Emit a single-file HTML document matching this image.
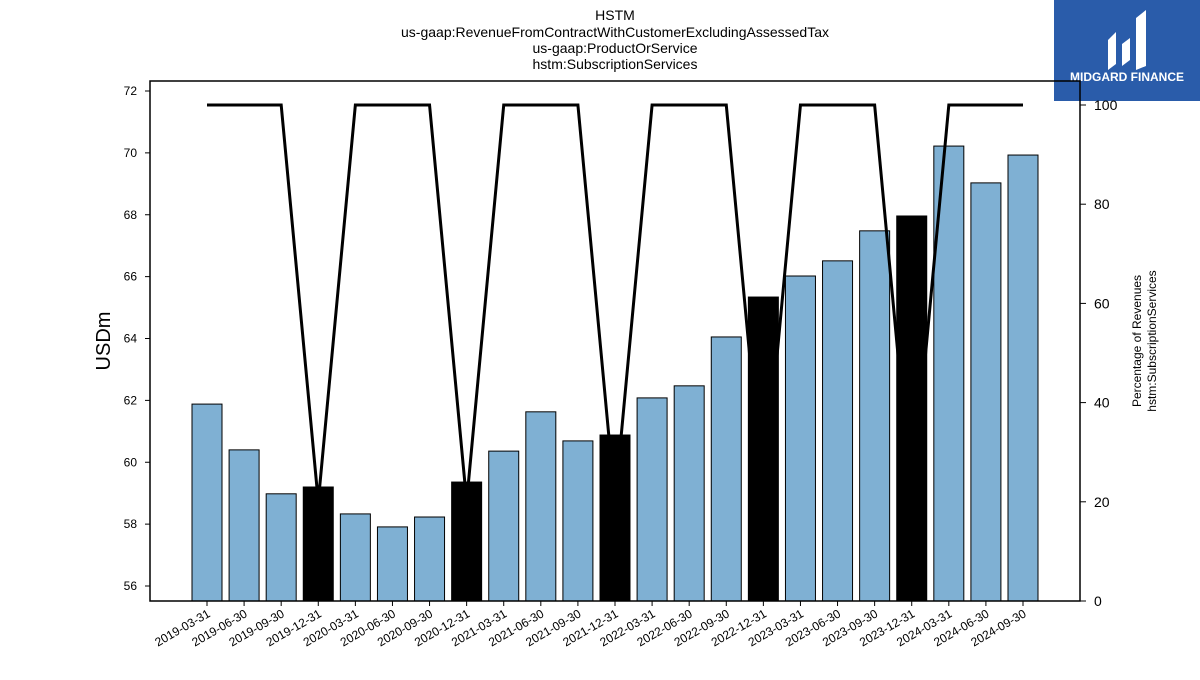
<!DOCTYPE html>
<html><head><meta charset="utf-8"><style>
body{margin:0;background:#fff;width:1200px;height:675px;overflow:hidden;font-family:"Liberation Sans",sans-serif}
</style></head><body>
<svg width="1200" height="675" xmlns="http://www.w3.org/2000/svg">
<g font-size="14" text-anchor="middle" fill="#000">
<text x="615" y="20">HSTM</text>
<text x="615" y="37">us-gaap:RevenueFromContractWithCustomerExcludingAssessedTax</text>
<text x="615" y="53">us-gaap:ProductOrService</text>
<text x="615" y="69">hstm:SubscriptionServices</text>
</g>
<g>
<rect x="1054" y="0" width="146" height="101" fill="#2a5caa"/>
<path d="M1108 70 L1108 40 L1116 32 L1116 64 Z M1122 66 L1122 44 L1130 38 L1130 60 Z M1136 70 L1136 18 L1146 10 L1146 66 Z" fill="#fff"/>
<text x="1127" y="81" font-size="12" font-weight="bold" fill="#fff" text-anchor="middle">MIDGARD FINANCE</text>
</g>
<g id="plot"></g>
<rect x="150" y="81" width="930" height="520" fill="none" stroke="#000" stroke-width="1.5"/>
<text x="110" y="341" font-size="20" text-anchor="middle" transform="rotate(-90 110 341)">USDm</text>
<g font-size="12" text-anchor="middle">
<text x="1141" y="341" transform="rotate(-90 1141 341)">Percentage of Revenues</text>
<text x="1156" y="341" transform="rotate(-90 1156 341)">hstm:SubscriptionServices</text>
</g>
</svg>
<script>
const categories=["2019-03-31","2019-06-30","2019-09-30","2019-12-31","2020-03-31","2020-06-30","2020-09-30","2020-12-31","2021-03-31","2021-06-30","2021-09-30","2021-12-31","2022-03-31","2022-06-30","2022-09-30","2022-12-31","2023-03-31","2023-06-30","2023-09-30","2023-12-31","2024-03-31","2024-06-30","2024-09-30"];
const revenue=[61.88,60.40,58.98,59.20,58.33,57.91,58.23,59.36,60.36,61.63,60.69,60.88,62.08,62.47,64.05,65.34,66.02,66.51,67.48,67.96,70.22,69.03,69.93];
const pct=[100,100,100,20,100,100,100,20,100,100,100,20,100,100,100,20,100,100,100,20,100,100,100];
const yTicks=[56,58,60,62,64,66,68,70,72];
const y2Ticks=[0,20,40,60,80,100];
const NS="http://www.w3.org/2000/svg";
const g=document.getElementById("plot");
const x=i=>207+i*(1023-207)/22;
const y=v=>586-(v-56)*(586-91)/16;
const y2=v=>601-v*(601-105)/100;
function mk(t,a){const e=document.createElementNS(NS,t);for(const k in a)e.setAttribute(k,a[k]);g.appendChild(e);return e;}
revenue.forEach((v,i)=>{
 const q4=categories[i].endsWith("12-31");
 const r=mk("rect",{x:x(i)-15,y:y(v),width:30,height:601-y(v),fill:q4?"#000":"#7fb0d3",stroke:"#000","stroke-width":1});
 
 
 const t=mk("text",{x:x(i)+4,y:616,"font-size":12,"text-anchor":"end",transform:`rotate(-30 ${x(i)+4} 616)`});
 t.textContent=categories[i];
 
 
 mk("line",{x1:x(i),x2:x(i),y1:601,y2:606,stroke:"#000"});
});
const p=mk("polyline",{points:pct.map((v,i)=>x(i)+","+y2(v)).join(" "),fill:"none",stroke:"#000","stroke-width":3});


yTicks.forEach(v=>{
 mk("line",{x1:145,x2:150,y1:y(v),y2:y(v),stroke:"#000"});
 const t=mk("text",{x:137,y:y(v)+4,"font-size":12,"text-anchor":"end"});t.textContent=v;
 
 
});
y2Ticks.forEach(v=>{
 mk("line",{x1:1080,x2:1086,y1:y2(v),y2:y2(v),stroke:"#000"});
 const t=mk("text",{x:1094,y:y2(v)+5,"font-size":14});t.textContent=v;
 
 
});
</script>
</body></html>
